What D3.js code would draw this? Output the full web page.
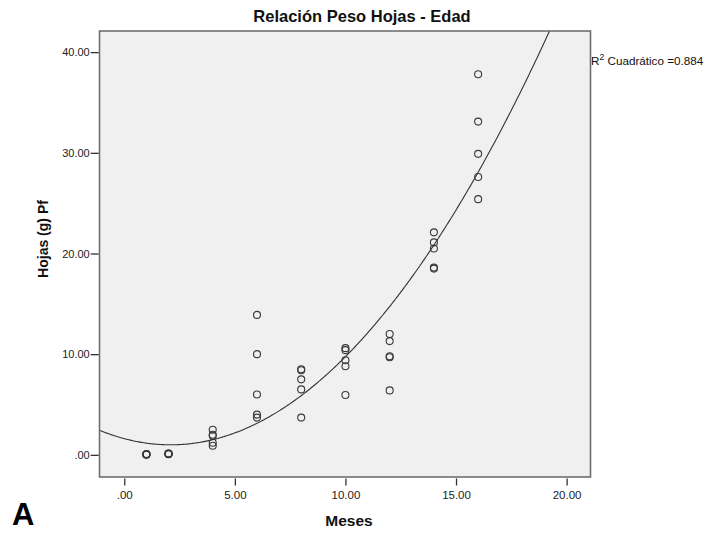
<!DOCTYPE html>
<html>
<head>
<meta charset="utf-8">
<script src="https://cdn.jsdelivr.net/npm/d3@7"></script>
<style>
  html, body { margin: 0; padding: 0; background: #ffffff; }
  svg { display: block; font-family: "Liberation Sans", Arial, sans-serif; }
</style>
</head>
<body>
<svg id="chart" width="709" height="533"></svg>
<script>
// Age of the plant (months) and leaf fresh weight (g), five plants per age
const meses = [
  1, 1, 1, 1, 1,
  2, 2, 2, 2, 2,
  4, 4, 4, 4, 4,
  6, 6, 6, 6, 6,
  8, 8, 8, 8, 8,
  10, 10, 10, 10, 10,
  12, 12, 12, 12, 12,
  14, 14, 14, 14, 14,
  16, 16, 16, 16, 16
];
const hojasPf = [
  0.02, 0.04, 0.05, 0.06, 0.08,
  0.06, 0.08, 0.10, 0.12, 0.14,
  2.5, 2.0, 1.9, 1.2, 0.9,
  13.9, 10.0, 6.0, 4.0, 3.7,
  8.5, 8.4, 7.5, 6.5, 3.7,
  10.6, 10.4, 9.4, 8.8, 5.95,
  12.0, 11.3, 9.8, 9.7, 6.4,
  22.1, 21.1, 20.5, 18.6, 18.5,
  37.8, 33.1, 29.9, 27.6, 25.4
];
const xTicks = [0, 5, 10, 15, 20];
const yTicks = [0, 10, 20, 30, 40];
const titulo = "Relación Peso Hojas - Edad";
const etiquetaX = "Meses";
const etiquetaY = "Hojas (g) Pf";
const r2Texto = "0.884";

const svg = d3.select("#chart");
const frame = { left: 99.5, right: 590.5, top: 31, bottom: 477 };

const x = d3.scaleLinear().domain([-1.12, 21.08]).range([frame.left, frame.right]);
const y = d3.scaleLinear().domain([-2.2, 42.1]).range([frame.bottom, frame.top]);

// SPSS-style number format: two decimals, no leading zero for 0
const fmt = v => d3.format(".2f")(v).replace(/^0\./, ".");

// Quadratic least-squares fit y = a + b x + c x^2
function quadFit(xs, ys) {
  let S = [[0,0,0],[0,0,0],[0,0,0]], T = [0,0,0];
  xs.forEach((xi, i) => {
    const p = [1, xi, xi * xi];
    for (let r = 0; r < 3; r++) {
      T[r] += p[r] * ys[i];
      for (let c = 0; c < 3; c++) S[r][c] += p[r] * p[c];
    }
  });
  // Gaussian elimination
  const M = S.map((row, i) => row.concat([T[i]]));
  for (let k = 0; k < 3; k++) {
    for (let i = k + 1; i < 3; i++) {
      const f = M[i][k] / M[k][k];
      for (let j = k; j < 4; j++) M[i][j] -= f * M[k][j];
    }
  }
  const sol = [0, 0, 0];
  for (let i = 2; i >= 0; i--) {
    let s = M[i][3];
    for (let j = i + 1; j < 3; j++) s -= M[i][j] * sol[j];
    sol[i] = s / M[i][i];
  }
  return sol;
}
const [qa, qb, qc] = quadFit(meses, hojasPf);

// Plot background
svg.append("rect")
  .attr("x", frame.left).attr("y", frame.top)
  .attr("width", frame.right - frame.left).attr("height", frame.bottom - frame.top)
  .attr("fill", "#f0f0f0");

svg.append("clipPath").attr("id", "plotClip")
  .append("rect")
  .attr("x", frame.left).attr("y", frame.top)
  .attr("width", frame.right - frame.left).attr("height", frame.bottom - frame.top);

// Points
svg.append("g")
  .selectAll("circle")
  .data(meses.map((m, i) => [m, hojasPf[i]]))
  .join("circle")
  .attr("cx", d => x(d[0]))
  .attr("cy", d => y(d[1]))
  .attr("r", 3.5)
  .attr("fill", "none")
  .attr("stroke", "#3a3a3a")
  .attr("stroke-width", 1.1);

// Fitted quadratic curve
const curveXs = d3.range(0, 401).map(i => x.domain()[0] + (x.domain()[1] - x.domain()[0]) * i / 400);
svg.append("path")
  .attr("clip-path", "url(#plotClip)")
  .attr("d", d3.line().x(d => x(d)).y(d => y(qa + qb * d + qc * d * d))(curveXs))
  .attr("fill", "none")
  .attr("stroke", "#333333")
  .attr("stroke-width", 1.1);

// Frame
svg.append("rect")
  .attr("x", frame.left).attr("y", frame.top)
  .attr("width", frame.right - frame.left).attr("height", frame.bottom - frame.top)
  .attr("fill", "none")
  .attr("stroke", "#707070")
  .attr("stroke-width", 1.6);

// Y axis
const yAxis = svg.append("g")
  .attr("transform", `translate(${frame.left - 0.8},0)`)
  .call(d3.axisLeft(y).tickValues(yTicks).tickFormat(fmt).tickSize(8).tickPadding(1));
yAxis.select(".domain").remove();
yAxis.selectAll(".tick line").attr("stroke", "#333").attr("stroke-width", 1.3);
yAxis.selectAll(".tick text").attr("fill", "#222").style("font-size", "11px")
  .style("font-family", "'Liberation Sans', Arial, sans-serif");

// X axis
const xAxis = svg.append("g")
  .attr("transform", `translate(0,${frame.bottom + 1.5})`)
  .call(d3.axisBottom(x).tickValues(xTicks).tickFormat(fmt).tickSize(7).tickPadding(5));
xAxis.select(".domain").remove();
xAxis.selectAll(".tick line").attr("stroke", "#333").attr("stroke-width", 1.3);
xAxis.selectAll(".tick text").attr("fill", "#222").style("font-size", "11.5px")
  .style("font-family", "'Liberation Sans', Arial, sans-serif");

// Title
svg.append("text")
  .attr("x", 362).attr("y", 22)
  .attr("text-anchor", "middle")
  .style("font-size", "16.5px").style("font-weight", "bold")
  .attr("fill", "#111")
  .text(titulo);

// Axis titles
svg.append("text")
  .attr("x", 349).attr("y", 526)
  .attr("text-anchor", "middle")
  .style("font-size", "15.5px").style("font-weight", "bold")
  .attr("fill", "#111")
  .text(etiquetaX);

svg.append("text")
  .attr("transform", "translate(48,239) rotate(-90)")
  .attr("text-anchor", "middle")
  .style("font-size", "14px").style("font-weight", "bold")
  .attr("fill", "#111")
  .text(etiquetaY);

// Fit annotation
const r2 = svg.append("text")
  .attr("x", 591).attr("y", 65)
  .style("font-size", "11.7px")
  .attr("fill", "#111");
r2.append("tspan").text("R");
r2.append("tspan").attr("dy", -5).style("font-size", "8.5px").text("2");
r2.append("tspan").attr("dy", 5).text(" Cuadrático =" + r2Texto);

// Panel letter
svg.append("text")
  .attr("x", 12).attr("y", 525)
  .style("font-size", "31px").style("font-weight", "bold")
  .attr("fill", "#000")
  .text("A");
</script>
</body>
</html>
